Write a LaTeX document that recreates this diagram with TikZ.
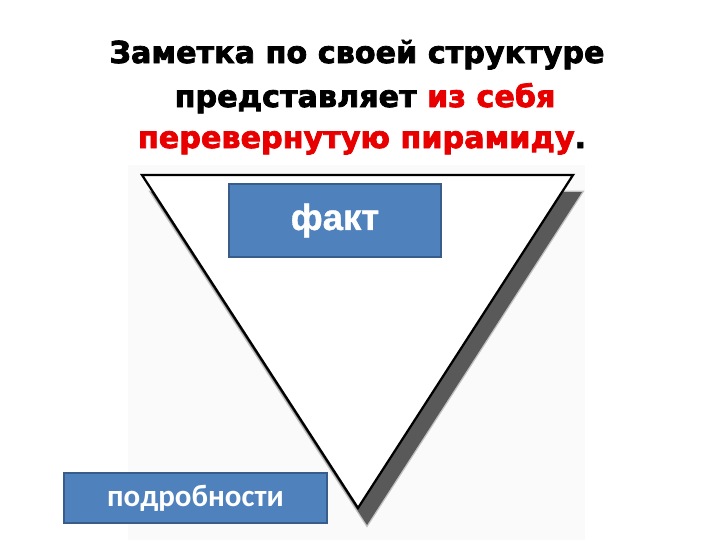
\documentclass[tikz,border=0pt]{standalone}
\usepackage{fontspec}
\setmainfont{DejaVu Sans}[BoldFeatures={FakeBold=2.5}]
\newfontfamily\factfont{Liberation Sans}[BoldFeatures={FakeBold=1}]
\newfontfamily\detailfont{Carlito}
\usetikzlibrary{calc}
\definecolor{boxblue}{RGB}{79,129,189}
\definecolor{boxedge}{RGB}{56,93,138}
\definecolor{titlered}{RGB}{232,0,0}

\begin{document}
\begin{tikzpicture}[x=0.025cm,y=-0.025cm,
  titleline/.style={anchor=base,font=\fontsize{21.5}{25}\selectfont\bfseries},
  bluebox/.style={draw=boxedge,line width=0.9pt,fill=boxblue,text=white,inner sep=0pt}]

\useasboundingbox (0,0) rectangle (720,540);
\fill[black!2] (128,165) rectangle (585,540);

 \node[titleline] (line1) at (357,63) {Заметка по своей структуре};
 \node[titleline] (line2) at (365,107) {представляет \textcolor{titlered}{из себя}};
 \node[titleline] (line3) at (362,148) {\textcolor{titlered}{перевернутую пирамиду}.};

\coordinate (tl) at (142,175);
\coordinate (tr) at (573,175);
\coordinate (tip) at (358,508);

% shadow
\draw[black!45,line width=2pt,opacity=0.5] ($(tl)+(9,17)$) -- ($(tr)+(9,17)$) -- ($(tip)+(9,17)$) -- cycle;
\fill[black!65] ($(tl)+(9,17)$) -- ($(tr)+(9,17)$) -- ($(tip)+(9,17)$) -- cycle;

\draw[line width=1.6pt,fill=white] (tl) -- (tr) -- (tip) -- cycle;

 \node[bluebox,minimum width=5.3cm,minimum height=1.825cm,
   font=\factfont\fontsize{26}{30}\selectfont\bfseries] (fact) at (335,220.5) {факт};
 \node[bluebox,minimum width=6.575cm,minimum height=1.25cm,
   font=\detailfont\fontsize{22}{26}\selectfont\bfseries] (details) at (195.5,498) {подробности};
\end{tikzpicture}
\end{document}
